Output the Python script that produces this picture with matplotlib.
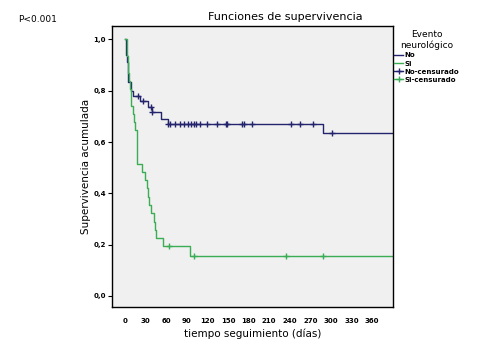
import matplotlib
matplotlib.use('Agg')
import matplotlib.pyplot as plt
from matplotlib.lines import Line2D

# step times (days) and cumulative survival
no_t = [0, 2, 3, 4, 5, 8, 9, 12, 22, 33, 40, 53, 62, 289, 400]
no_s = [1.0, 0.94, 0.91, 0.87, 0.834, 0.82, 0.80, 0.778, 0.759, 0.737, 0.715, 0.69, 0.669, 0.637, 0.637]
no_cens_t = [19, 26, 38, 40, 63, 66, 73, 80, 86, 92, 96, 101, 104, 109, 119, 134, 147, 148,
             170, 173, 185, 242, 255, 274, 302]
no_cens_s = [0.778, 0.759, 0.737, 0.715] + [0.669] * 20 + [0.637]

si_t = [0, 2.5, 3, 4, 5, 6, 7, 8, 9, 11, 13, 15, 18, 24, 29, 32.5, 33, 35, 38, 41.5, 43.5,
        45, 56, 95, 400]
si_s = [1.0, 0.968, 0.935, 0.903, 0.87, 0.838, 0.806, 0.774, 0.742, 0.71, 0.677, 0.645,
        0.516, 0.484, 0.452, 0.42, 0.387, 0.355, 0.323, 0.29, 0.258, 0.226, 0.194, 0.155, 0.155]
si_cens_t = [64, 101, 235, 289]
si_cens_s = [0.194, 0.155, 0.155, 0.155]

xticks = list(range(0, 361, 30))
yticks = [0.0, 0.2, 0.4, 0.6, 0.8, 1.0]
ylabels = ['0,0', '0,2', '0,4', '0,6', '0,8', '1,0']

navy = '#23236e'
green = '#3aad55'

plt.rcParams['font.family'] = ['DejaVu Sans']

fig = plt.figure(figsize=(4.83, 3.47), dpi=100)
ax = fig.add_axes([0.2313, 0.1153, 0.5817, 0.8097])
ax.set_facecolor('#f0f0f0')

ax.plot(no_t, no_s, drawstyle='steps-post', color=navy, lw=1)
ax.plot(si_t, si_s, drawstyle='steps-post', color=green, lw=1)
ax.plot(no_cens_t, no_cens_s, ls='none', marker='+', ms=4, mew=1, color=navy)
ax.plot(si_cens_t, si_cens_s, ls='none', marker='+', ms=4, mew=1, color=green)

ax.set_xlim(-19.4, 390)
ax.set_ylim(-0.043, 1.052)
ax.set_xticks(xticks)
ax.set_xticklabels([str(x) for x in xticks], fontsize=5, fontweight='bold')
ax.set_yticks(yticks)
ax.set_yticklabels(ylabels, fontsize=5, fontweight='bold')
ax.tick_params(axis='x', length=0, pad=8)
ax.tick_params(axis='y', length=3, width=0.8, pad=1)
for sp in ax.spines.values():
    sp.set_linewidth(1)
    sp.set_color('black')

ax.set_xlabel('tiempo seguimiento (días)', fontsize=7.5, labelpad=3)
ax.set_ylabel('Supervivencia acumulada', fontsize=7.5, labelpad=2)

fig.text(285 / 483, 1 - 17 / 347, 'Funciones de supervivencia', ha='center', va='center', fontsize=8)
fig.text(18 / 483, 1 - 20 / 347, 'P<0.001', ha='left', va='center', fontsize=6.5)

handles = [Line2D([], [], color=navy, lw=1),
           Line2D([], [], color=green, lw=1),
           Line2D([], [], color=navy, lw=1, marker='+', ms=4),
           Line2D([], [], color=green, lw=1, marker='+', ms=4)]
leg = fig.legend(handles, ['No', 'Si', 'No-censurado', 'Si-censurado'],
                 title='Evento\nneurológico', loc='upper left', alignment='center',
                 bbox_to_anchor=(393 / 483, 1 - 29 / 347), frameon=False,
                 fontsize=5, title_fontsize=6.5, handlelength=1.3, handletextpad=0.2,
                 labelspacing=0.3, borderaxespad=0, borderpad=0.2)
leg.get_title().set_multialignment('center')
for t in leg.get_texts():
    t.set_fontweight('bold')

fig.savefig('out.png', dpi=100)
